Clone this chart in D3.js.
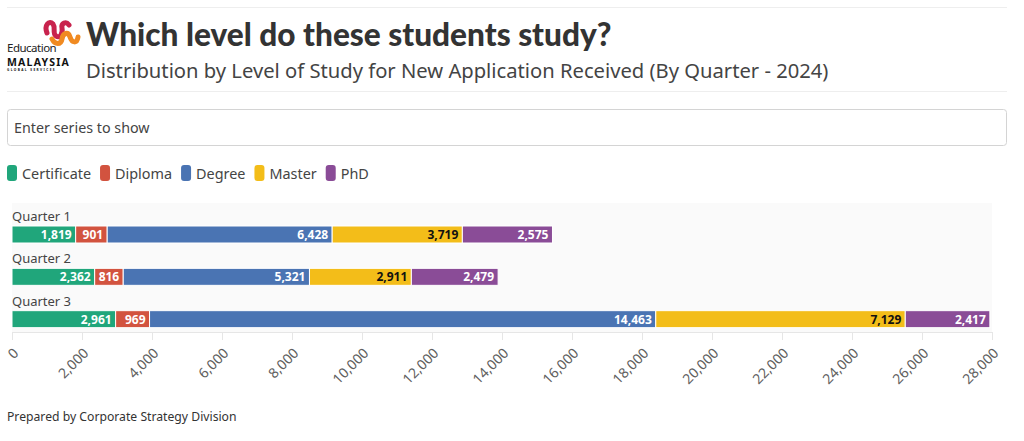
<!DOCTYPE html>
<html><head><meta charset="utf-8">
<script src="https://cdn.jsdelivr.net/npm/d3@7"></script>
<style>
html,body{margin:0;padding:0;background:#fff;}
svg{display:block;font-family:"Source Sans Pro","Noto Sans",Lato,sans-serif;}
</style></head><body>
<svg id="c" width="1024" height="441"></svg>
<script>
const categories = ["Quarter 1", "Quarter 2", "Quarter 3"];
const seriesNames = ["Certificate", "Diploma", "Degree", "Master", "PhD"];
const certificate = [1819, 2362, 2961];
const diploma = [901, 816, 969];
const degree = [6428, 5321, 14463];
const master = [3719, 2911, 7129];
const phd = [2575, 2479, 2417];
const tickValues = [0,2000,4000,6000,8000,10000,12000,14000,16000,18000,20000,22000,24000,26000,28000];
const colors = ["#20a67b", "#d2533f", "#4a74b3", "#f3bd19", "#8a4c97"];
const labelColors = ["#fff", "#fff", "#fff", "#111", "#fff"];

const svgEl = d3.select("#c");
const fontT = "Lato, 'Noto Sans', sans-serif";
const fontB = "'Noto Sans', 'Open Sans', sans-serif";

// separators
svgEl.append("line").attr("x1",7).attr("x2",1007).attr("y1",7.5).attr("y2",7.5).attr("stroke","#eee");
svgEl.append("line").attr("x1",7).attr("x2",1007).attr("y1",91.5).attr("y2",91.5).attr("stroke","#eee");

// logo
const logo = svgEl.append("g");
logo.append("path").attr("d","M47,33 C44,25 49,20 53,24 C56,28 52,33 56,36 C60,39 63,33 62,28 C61,23 66,21 69,25")
  .attr("fill","none").attr("stroke","#c8234d").attr("stroke-width",5).attr("stroke-linecap","round");
logo.append("path").attr("d","M52,39 C55,45 61,45 62,39 C63,33 68,31 70,37 C72,43 77,44 78,37")
  .attr("fill","none").attr("stroke","#f08a21").attr("stroke-width",5).attr("stroke-linecap","round");
logo.append("text").attr("x",7).attr("y",51.5).attr("font-family",fontB).attr("font-size",11.5).attr("fill","#222").attr("letter-spacing",-0.5).text("Education");
logo.append("text").attr("x",7).attr("y",65.5).attr("font-family",fontB).attr("font-weight","bold").attr("font-size",10.5).attr("fill","#111").attr("letter-spacing",1.2).text("MALAYSIA");
logo.append("text").attr("x",7).attr("y",70.5).attr("font-family",fontB).attr("font-weight","bold").attr("font-size",3.2).attr("fill","#111").attr("letter-spacing",1.4).text("GLOBAL SERVICES");

// title
svgEl.append("text").attr("x",86).attr("y",46).attr("font-family",fontT).attr("font-weight",900).attr("font-size",31.6).attr("fill","#333").text("Which level do these students study?");
svgEl.append("text").attr("x",86).attr("y",78).attr("font-family",fontB).attr("font-size",20.2).attr("fill","#444").text("Distribution by Level of Study for New Application Received (By Quarter - 2024)");

// input box
svgEl.append("rect").attr("x",7.5).attr("y",109.5).attr("width",999).attr("height",36).attr("rx",3).attr("fill","#fff").attr("stroke","#d4d4d4");
svgEl.append("text").attr("x",14).attr("y",133).attr("font-family",fontB).attr("font-size",14.3).attr("fill","#444").text("Enter series to show");

// legend
const leg = svgEl.append("g");
let lx = 7;
seriesNames.forEach((n,i)=>{
  leg.append("rect").attr("x",lx).attr("y",165).attr("width",10).attr("height",16).attr("rx",3).attr("fill",colors[i]);
  const t = leg.append("text").attr("x",lx+15).attr("y",179).attr("font-family",fontB).attr("font-size",14.4).attr("fill","#444").text(n);
  lx += 15 + t.node().getComputedTextLength() + 9;
});

// chart
const x = d3.scaleLinear().domain([0,28000]).range([12,992]);
const plotTop = 203, plotBottom = 332;
svgEl.append("rect").attr("x",12).attr("y",plotTop).attr("width",980).attr("height",plotBottom-plotTop).attr("fill","#fafafa");

const y = d3.scaleBand().domain(categories).range([205,332]).paddingInner(0).paddingOuter(0);
const data = categories.map((c,i)=>({cat:c, Certificate:certificate[i], Diploma:diploma[i], Degree:degree[i], Master:master[i], PhD:phd[i]}));
const stack = d3.stack().keys(seriesNames)(data);

const g = svgEl.append("g");
categories.forEach((c)=>{
  g.append("text").attr("x",12).attr("y",y(c)+16).attr("font-family",fontB).attr("font-size",13).attr("fill","#444").text(c);
});
const barH = 17;
stack.forEach((layer,si)=>{
  layer.forEach((d)=>{
    const cat = d.data.cat;
    const by = y(cat)+21;
    g.append("rect").attr("x",x(d[0])).attr("y",by).attr("width",x(d[1])-x(d[0])).attr("height",barH)
      .attr("fill",colors[si]).attr("stroke","#fff").attr("stroke-width",1);
    g.append("text").attr("x",x(d[1])-4).attr("y",by+13).attr("text-anchor","end")
      .attr("font-family",fontB).attr("font-weight","bold").attr("font-size",12)
      .attr("fill",labelColors[si]).text(d3.format(",")(d[1]-d[0]));
  });
});

// axis
const ax = svgEl.append("g").attr("transform",`translate(0,${plotBottom})`)
  .call(d3.axisBottom(x).tickValues(tickValues).tickSize(8).tickFormat(d3.format(",")));
ax.select(".domain").attr("stroke","#e6e6e6");
ax.selectAll(".tick line").attr("stroke","#e6e6e6");
ax.selectAll(".tick text").attr("font-family",fontB).attr("font-size",14).attr("fill","#606060")
  .attr("text-anchor","end").attr("x",0).attr("y",0).attr("dx",0).attr("dy",0)
  .attr("transform","translate(7,22) rotate(-45)");

// footer
svgEl.append("text").attr("x",7).attr("y",421).attr("font-family",fontB).attr("font-size",12.2).attr("fill","#333").text("Prepared by Corporate Strategy Division");
</script>
</body></html>
